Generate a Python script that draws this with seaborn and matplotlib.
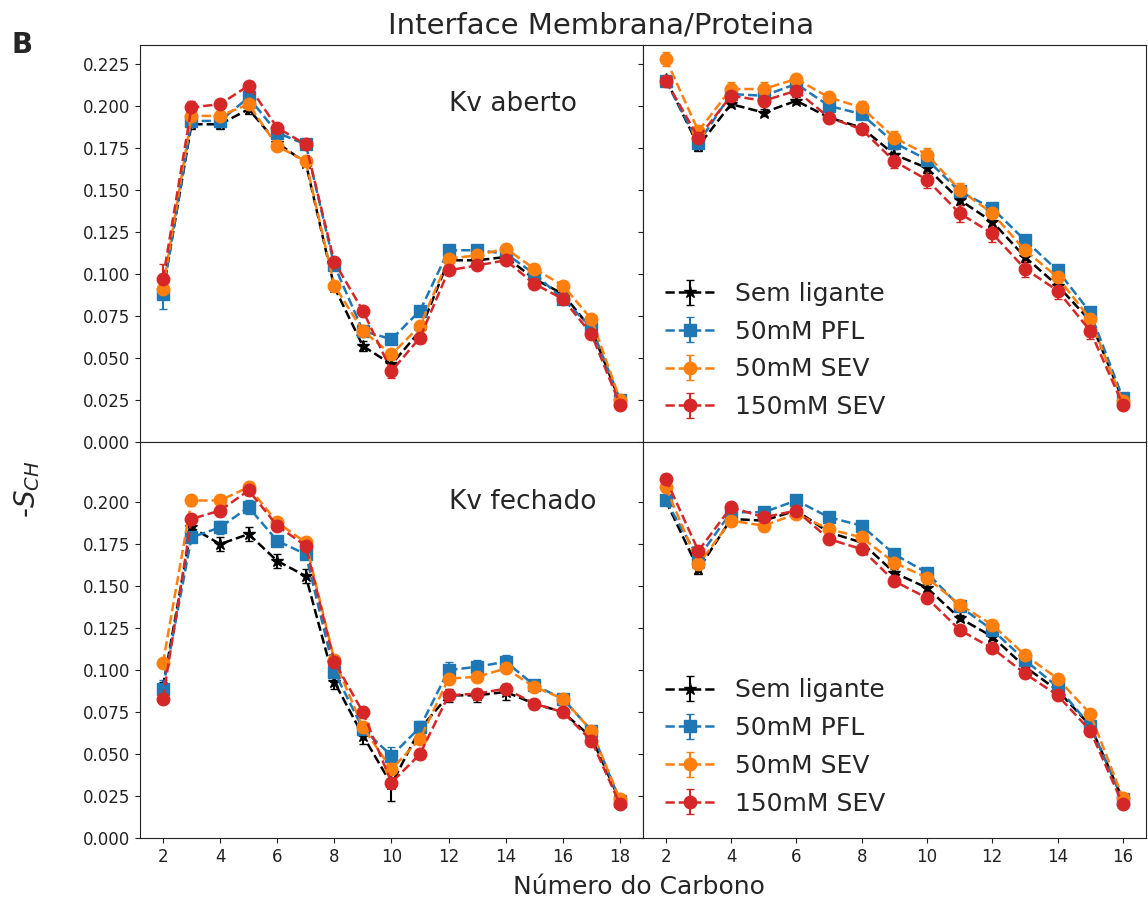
import numpy as np
import seaborn as sns
import matplotlib
matplotlib.use('Agg')
import matplotlib.pyplot as plt

# numero do carbono
carbonos_1 = list(range(2, 19))   # cadeia sn-1 (2..18)
carbonos_2 = list(range(2, 17))   # cadeia sn-2 (2..16)

rotulos = ['Sem ligante', '50mM PFL', '50mM SEV', '150mM SEV']

# Kv aberto, cadeia 1
ab1_sem = [0.089, 0.189, 0.189, 0.198, 0.178, 0.166, 0.092, 0.057, 0.046, 0.066, 0.108, 0.108, 0.110, 0.097, 0.088, 0.067, 0.024]
ab1_pfl = [0.088, 0.191, 0.191, 0.205, 0.184, 0.177, 0.105, 0.066, 0.061, 0.078, 0.114, 0.114, 0.112, 0.100, 0.085, 0.068, 0.025]
ab1_sev = [0.091, 0.194, 0.194, 0.201, 0.176, 0.167, 0.093, 0.066, 0.052, 0.069, 0.109, 0.111, 0.115, 0.103, 0.093, 0.073, 0.025]
ab1_sev150 = [0.097, 0.199, 0.201, 0.212, 0.187, 0.177, 0.107, 0.078, 0.042, 0.062, 0.102, 0.105, 0.108, 0.094, 0.085, 0.064, 0.022]
ab1_sem_err = [0.003, 0.003, 0.003, 0.003, 0.002, 0.002, 0.002, 0.003, 0.003, 0.002, 0.002, 0.002, 0.002, 0.002, 0.002, 0.002, 0.001]
ab1_pfl_err = [0.009, 0.003, 0.003, 0.003, 0.002, 0.002, 0.002, 0.002, 0.003, 0.002, 0.002, 0.002, 0.002, 0.002, 0.002, 0.002, 0.001]
ab1_sev_err = [0.003, 0.003, 0.003, 0.003, 0.002, 0.002, 0.002, 0.002, 0.003, 0.002, 0.002, 0.002, 0.003, 0.002, 0.002, 0.002, 0.001]
ab1_sev150_err = [0.009, 0.004, 0.002, 0.002, 0.002, 0.002, 0.002, 0.002, 0.004, 0.003, 0.002, 0.002, 0.002, 0.002, 0.002, 0.002, 0.001]

# Kv aberto, cadeia 2
ab2_sem = [0.216, 0.176, 0.201, 0.196, 0.203, 0.193, 0.187, 0.171, 0.163, 0.144, 0.131, 0.110, 0.093, 0.072, 0.025]
ab2_pfl = [0.215, 0.178, 0.207, 0.206, 0.213, 0.200, 0.195, 0.178, 0.168, 0.149, 0.139, 0.120, 0.102, 0.077, 0.026]
ab2_sev = [0.228, 0.185, 0.210, 0.210, 0.216, 0.205, 0.199, 0.181, 0.171, 0.150, 0.136, 0.114, 0.098, 0.073, 0.024]
ab2_sev150 = [0.215, 0.181, 0.206, 0.203, 0.209, 0.193, 0.186, 0.167, 0.156, 0.136, 0.124, 0.103, 0.090, 0.066, 0.022]
ab2_sem_err = [0.002, 0.003, 0.002, 0.002, 0.002, 0.002, 0.002, 0.003, 0.003, 0.003, 0.003, 0.003, 0.003, 0.003, 0.001]
ab2_pfl_err = [0.002, 0.003, 0.003, 0.003, 0.003, 0.003, 0.003, 0.003, 0.003, 0.003, 0.003, 0.003, 0.003, 0.003, 0.001]
ab2_sev_err = [0.004, 0.003, 0.004, 0.004, 0.003, 0.003, 0.004, 0.004, 0.004, 0.004, 0.003, 0.003, 0.003, 0.003, 0.001]
ab2_sev150_err = [0.003, 0.003, 0.003, 0.003, 0.003, 0.003, 0.003, 0.004, 0.005, 0.005, 0.005, 0.005, 0.005, 0.005, 0.002]

# Kv fechado, cadeia 1
fe1_sem = [0.090, 0.185, 0.175, 0.181, 0.165, 0.156, 0.093, 0.061, 0.032, 0.065, 0.085, 0.085, 0.087, 0.080, 0.075, 0.060, 0.022]
fe1_pfl = [0.089, 0.179, 0.185, 0.197, 0.177, 0.169, 0.099, 0.065, 0.049, 0.066, 0.100, 0.102, 0.105, 0.091, 0.083, 0.064, 0.022]
fe1_sev = [0.104, 0.201, 0.201, 0.209, 0.188, 0.176, 0.106, 0.066, 0.041, 0.059, 0.095, 0.096, 0.101, 0.090, 0.083, 0.064, 0.023]
fe1_sev150 = [0.083, 0.190, 0.195, 0.207, 0.186, 0.174, 0.105, 0.075, 0.033, 0.050, 0.085, 0.086, 0.089, 0.080, 0.075, 0.058, 0.020]
fe1_sem_err = [0.003, 0.003, 0.004, 0.004, 0.004, 0.004, 0.004, 0.005, 0.010, 0.003, 0.004, 0.004, 0.005, 0.003, 0.003, 0.002, 0.001]
fe1_pfl_err = [0.005, 0.003, 0.004, 0.004, 0.003, 0.003, 0.003, 0.003, 0.005, 0.004, 0.005, 0.004, 0.004, 0.003, 0.002, 0.002, 0.001]
fe1_sev_err = [0.002, 0.003, 0.003, 0.003, 0.002, 0.002, 0.002, 0.002, 0.003, 0.003, 0.003, 0.003, 0.003, 0.002, 0.002, 0.002, 0.001]
fe1_sev150_err = [0.002, 0.003, 0.003, 0.003, 0.002, 0.002, 0.002, 0.003, 0.003, 0.003, 0.003, 0.003, 0.003, 0.002, 0.002, 0.002, 0.001]

# Kv fechado, cadeia 2
fe2_sem = [0.201, 0.160, 0.190, 0.189, 0.195, 0.182, 0.176, 0.158, 0.149, 0.131, 0.120, 0.102, 0.088, 0.067, 0.023]
fe2_pfl = [0.201, 0.167, 0.194, 0.194, 0.201, 0.191, 0.186, 0.169, 0.158, 0.138, 0.124, 0.106, 0.090, 0.067, 0.023]
fe2_sev = [0.209, 0.163, 0.189, 0.186, 0.193, 0.184, 0.179, 0.164, 0.155, 0.139, 0.127, 0.109, 0.095, 0.074, 0.024]
fe2_sev150 = [0.214, 0.171, 0.197, 0.191, 0.195, 0.178, 0.172, 0.153, 0.143, 0.124, 0.113, 0.098, 0.085, 0.064, 0.020]
fe2_sem_err = [0.002, 0.003, 0.002, 0.002, 0.002, 0.002, 0.002, 0.002, 0.002, 0.002, 0.002, 0.002, 0.002, 0.002, 0.001]
fe2_pfl_err = [0.002, 0.002, 0.002, 0.002, 0.002, 0.002, 0.002, 0.002, 0.002, 0.002, 0.002, 0.002, 0.002, 0.002, 0.001]
fe2_sev_err = [0.002, 0.002, 0.002, 0.002, 0.002, 0.002, 0.002, 0.002, 0.002, 0.002, 0.002, 0.002, 0.002, 0.002, 0.001]
fe2_sev150_err = [0.002, 0.002, 0.002, 0.002, 0.002, 0.002, 0.002, 0.002, 0.002, 0.002, 0.002, 0.002, 0.002, 0.002, 0.001]

sns.set_style("ticks")
plt.rcParams['font.family'] = ['DejaVu Sans']

pal = sns.color_palette("tab10")
cores = ['black', pal[0], pal[1], pal[3]]
marcadores = ['*', 's', 'o', 'o']
tamanhos = [9, 8, 9, 9]


def painel(ax, x, series, erros):
    for i in range(4):
        ax.errorbar(x, series[i], yerr=erros[i], color=cores[i], marker=marcadores[i],
                    markersize=tamanhos[i], linestyle='--', linewidth=1.8,
                    elinewidth=1.5, capsize=3, label=rotulos[i])
    ax.set_ylim(0, 0.236)


fig, axes = plt.subplots(2, 2, figsize=(11.48, 9.07), dpi=100)
fig.subplots_adjust(left=0.122, right=0.998, top=0.950, bottom=0.076, wspace=0, hspace=0)

painel(axes[0, 0], carbonos_1, [ab1_sem, ab1_pfl, ab1_sev, ab1_sev150],
       [ab1_sem_err, ab1_pfl_err, ab1_sev_err, ab1_sev150_err])
painel(axes[0, 1], carbonos_2, [ab2_sem, ab2_pfl, ab2_sev, ab2_sev150],
       [ab2_sem_err, ab2_pfl_err, ab2_sev_err, ab2_sev150_err])
painel(axes[1, 0], carbonos_1, [fe1_sem, fe1_pfl, fe1_sev, fe1_sev150],
       [fe1_sem_err, fe1_pfl_err, fe1_sev_err, fe1_sev150_err])
painel(axes[1, 1], carbonos_2, [fe2_sem, fe2_pfl, fe2_sev, fe2_sev150],
       [fe2_sem_err, fe2_pfl_err, fe2_sev_err, fe2_sev150_err])

for ax in axes.flat:
    ax.tick_params(labelsize=12, colors='#222222')
    for s in ax.spines.values():
        s.set_color('#222222')

axes[0, 0].set_yticks(np.arange(0, 0.226, 0.025))
axes[0, 1].set_yticks(np.arange(0, 0.226, 0.025))
axes[1, 0].set_yticks(np.arange(0, 0.201, 0.025))
axes[1, 1].set_yticks(np.arange(0, 0.201, 0.025))
for ax in axes[:, 1]:
    ax.set_yticklabels([])
for ax in axes[0, :]:
    ax.tick_params(axis='x', bottom=False, labelbottom=False)
axes[1, 0].set_xticks(range(2, 19, 2))
axes[1, 1].set_xticks(range(2, 17, 2))
axes[0, 0].set_xlim(axes[1, 0].get_xlim())
axes[0, 1].set_xlim(axes[1, 1].get_xlim())

axes[0, 0].text(0.614, 0.853, 'Kv aberto', transform=axes[0, 0].transAxes, fontsize=19, va='center')
axes[1, 0].text(0.614, 0.849, 'Kv fechado', transform=axes[1, 0].transAxes, fontsize=19, va='center')

for ax in axes[:, 1]:
    ax.legend(loc='lower left', frameon=False, fontsize=18, labelspacing=0.55)

fig.text(0.524, 0.972, 'Interface Membrana/Proteina', ha='center', va='center', fontsize=21)
fig.text(0.019, 0.950, 'B', ha='center', va='center', fontsize=20, fontweight='bold')
fig.text(0.024, 0.46, '-$S_{CH}$', ha='center', va='center', rotation=90, fontsize=20)
fig.text(0.557, 0.022, 'Número do Carbono', ha='center', va='center', fontsize=18)

plt.savefig('out.png', dpi=100)
